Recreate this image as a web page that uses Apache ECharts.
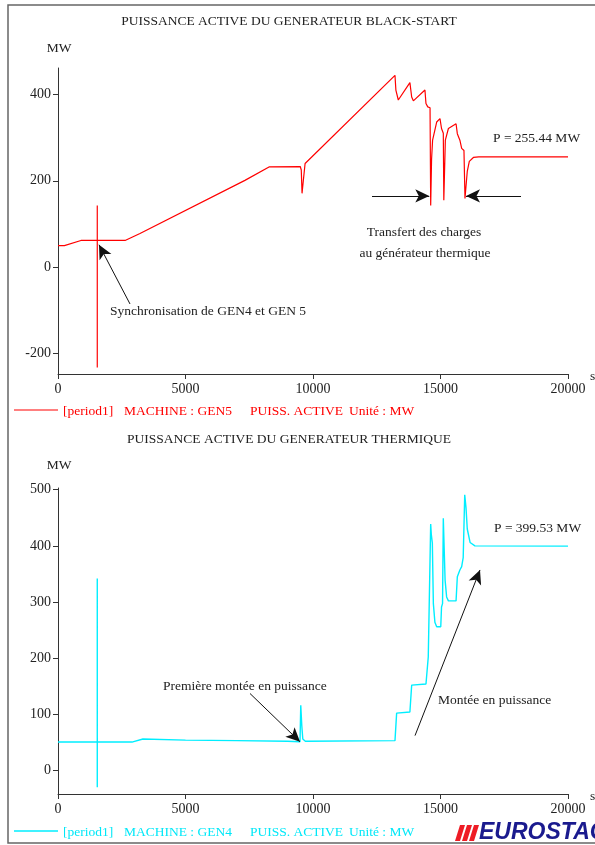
<!DOCTYPE html>
<html>
<head>
<meta charset="utf-8">
<script src="https://cdn.jsdelivr.net/npm/echarts@6/dist/echarts.min.js"></script>
<style>
  html, body { margin: 0; padding: 0; background: #fff; }
  #chart { width: 595px; height: 845px; }
</style>
</head>
<body>
<div id="chart"></div>
<script>
// temps (s) et puissance active (MW) - GEN5 (black-start)
const gen5Time = [0, 250, 900, 1540, 1540, 1540, 1540, 2630, 3215, 7330, 8275, 9500, 9540, 9570, 9620, 9690,
  13215, 13250, 13345, 13800, 13870, 13935, 14390, 14430, 14500, 14590, 14615, 14650, 14690, 14850, 14980,
  15040, 15110, 15130, 15190, 15310, 15610, 15660, 15760, 15830, 15920, 15960, 16050, 16130, 16290, 16500, 20000];
const gen5Power = [50, 50, 62, 62, 143, -232, 62, 62, 78, 201, 232, 233, 225, 171, 200, 240,
  444, 410, 387, 427, 394, 385, 410, 379, 371, 369, 143, 250, 294, 336, 344,
  321, 310, 155, 294, 321, 332, 309, 294, 275, 270, 159, 222, 245, 254, 255.44, 255.44];

// GEN4 (generateur thermique)
const gen4Time = [0, 1540, 1540, 1540, 1540, 2900, 3330, 5000, 7000, 9000, 9490, 9520, 9560, 9600, 9700,
  13215, 13280, 13800, 13870, 14430, 14520, 14590, 14615, 14640, 14680, 14720, 14780, 14850, 15010, 15040,
  15080, 15110, 15180, 15240, 15310, 15610, 15660, 15760, 15830, 15890, 15920, 15950, 16000, 16050, 16160,
  16350, 20000];
const gen4Power = [50.5, 50.5, 342, -30, 50.5, 50.5, 56, 54, 53, 52, 51, 116, 80, 56, 52,
  53, 102, 104, 152, 154, 202, 205, 439, 420, 405, 297, 264, 256, 256, 291,
  297, 449, 339, 309, 302, 302, 345, 357, 363, 379, 382, 491, 468, 430, 406,
  400, 399.53];

const xTicks = [0, 5000, 10000, 15000, 20000];
const yTicksTop = [-200, 0, 200, 400];
const yTicksBottom = [0, 100, 200, 300, 400, 500];

// fleches d'annotation [depart, arrivee] en coordonnees (s, MW)
const arrowsTop = [
  [[2824, -85], [1608, 52]],
  [[12314, 165], [14560, 165]],
  [[18157, 165], [16000, 165]]
];
const arrowsBottom = [
  [[7529, 137], [9490, 51]],
  [[14000, 62], [16549, 357]]
];

const serif = '"Liberation Serif", "Times New Roman", serif';
const fz = 13.5;

function txt(text, x, y, color, align, size) {
  return {
    type: 'text', silent: true,
    style: {
      text: text, x: x, y: y, fill: color || '#222',
      font: (size || fz) + 'px ' + serif,
      textAlign: align || 'left', textVerticalAlign: 'middle'
    }
  };
}

function xAxisCfg(gridIndex) {
  return {
    type: 'value', gridIndex: gridIndex, min: 0, max: 20000, interval: 5000,
    axisLine: { onZero: false, lineStyle: { color: '#333', width: 1 } },
    axisTick: { length: 5, customValues: xTicks, lineStyle: { color: '#333' } },
    axisLabel: { margin: 8, color: '#222', fontSize: 14, fontFamily: serif,
      customValues: xTicks, formatter: v => String(v) },
    splitLine: { show: false }
  };
}

function yAxisCfg(gridIndex, min, max, ticks) {
  return {
    type: 'value', gridIndex: gridIndex, min: min, max: max,
    axisLine: { show: true, onZero: false, lineStyle: { color: '#333', width: 1 } },
    axisTick: { show: true, length: 5, customValues: ticks, lineStyle: { color: '#333' } },
    axisLabel: { margin: 7, color: '#222', fontSize: 14, fontFamily: serif, customValues: ticks,
      formatter: v => String(v) },
    splitLine: { show: false }
  };
}

function arrowMarks(list) {
  return {
    silent: true,
    symbol: ['none', 'arrow'],
    symbolSize: [10, 14],
    lineStyle: { color: '#111', width: 1, type: 'solid' },
    label: { show: false },
    emphasis: { disabled: true },
    data: list.map(a => [{ coord: a[0] }, { coord: a[1] }])
  };
}

const chart = echarts.init(document.getElementById('chart'));

chart.setOption({
  animation: false,
  backgroundColor: '#fff',
  grid: [
    { left: 58, top: 68, width: 510, height: 306 },
    { left: 58, top: 488, width: 510, height: 306 }
  ],
  xAxis: [xAxisCfg(0), xAxisCfg(1)],
  yAxis: [
    yAxisCfg(0, -247, 461, yTicksTop),
    yAxisCfg(1, -42, 503, yTicksBottom)
  ],
  series: [
    {
      name: 'GEN5', type: 'line', xAxisIndex: 0, yAxisIndex: 0,
      showSymbol: false, symbol: 'none',
      lineStyle: { color: '#ff0000', width: 1.2 },
      data: gen5Time.map((t, i) => [t, gen5Power[i]]),
      markLine: arrowMarks(arrowsTop)
    },
    {
      name: 'GEN4', type: 'line', xAxisIndex: 1, yAxisIndex: 1,
      showSymbol: false, symbol: 'none',
      lineStyle: { color: '#00eeff', width: 1.4 },
      data: gen4Time.map((t, i) => [t, gen4Power[i]]),
      markLine: arrowMarks(arrowsBottom)
    }
  ],
  graphic: [
    // cadre
    { type: 'rect', silent: true, shape: { x: 8, y: 5, width: 600, height: 838 },
      style: { fill: 'none', stroke: '#666', lineWidth: 1.5 } },
    // titres
    txt('PUISSANCE ACTIVE DU GENERATEUR BLACK-START', 289, 21, '#222', 'center'),
    txt('PUISSANCE ACTIVE DU GENERATEUR THERMIQUE', 289, 439, '#222', 'center'),
    txt('MW', 59, 48, '#222', 'center'),
    txt('MW', 59, 465, '#222', 'center'),
    txt('s', 590, 376, '#222', 'left'),
    txt('s', 590, 796, '#222', 'left'),
    // annotations haut
    txt('Synchronisation de GEN4 et GEN 5', 110, 311),
    txt('P = 255.44 MW', 493, 138),
    txt('Transfert des charges', 424, 232, '#222', 'center'),
    txt('au générateur thermique', 425, 253, '#222', 'center'),
    // annotations bas
    txt('Première montée en puissance', 163, 686),
    txt('Montée en puissance', 438, 700),
    txt('P = 399.53 MW', 494, 528),
    // legende haut
    { type: 'line', silent: true, shape: { x1: 14, y1: 410, x2: 58, y2: 410 },
      style: { stroke: '#ff0000', lineWidth: 1.2 } },
    txt('[period1]', 63, 411, '#ff0000'),
    txt('MACHINE : GEN5', 124, 411, '#ff0000'),
    txt('PUISS. ACTIVE', 250, 411, '#ff0000'),
    txt('Unité : MW', 349, 411, '#ff0000'),
    // legende bas
    { type: 'line', silent: true, shape: { x1: 14, y1: 831, x2: 58, y2: 831 },
      style: { stroke: '#00eeff', lineWidth: 1.4 } },
    txt('[period1]', 63, 832, '#00e8f8'),
    txt('MACHINE : GEN4', 124, 832, '#00e8f8'),
    txt('PUISS. ACTIVE', 250, 832, '#00e8f8'),
    txt('Unité : MW', 349, 832, '#00e8f8'),
    // logo
    { type: 'polygon', silent: true, shape: { points: [[460, 825], [465, 825], [460, 841], [455, 841]] }, style: { fill: '#ee1c25' } },
    { type: 'polygon', silent: true, shape: { points: [[467, 825], [472, 825], [467, 841], [462, 841]] }, style: { fill: '#ee1c25' } },
    { type: 'polygon', silent: true, shape: { points: [[474, 825], [479, 825], [474, 841], [469, 841]] }, style: { fill: '#ee1c25' } },
    { type: 'text', silent: true,
      style: { text: 'EUROSTAG', x: 479, y: 833, fill: '#1a1a8e',
        font: 'italic bold 23px "Liberation Sans", Arial, sans-serif', textVerticalAlign: 'middle' } }
  ]
});

window.addEventListener('resize', () => chart.resize());
</script>
</body>
</html>
